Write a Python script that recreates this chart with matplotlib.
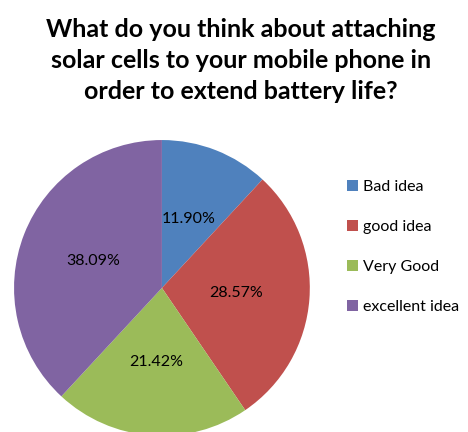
import matplotlib
matplotlib.use("Agg")
import matplotlib.pyplot as plt

categories = ["Bad idea", "good idea", "Very Good", "excellent idea"]
values = [11.90, 28.57, 21.42, 38.09]
value_labels = ["11.90%", "28.57%", "21.42%", "38.09%"]
colors = ["#4F81BD", "#C0504D", "#9BBB59", "#8064A2"]

plt.rcParams['font.family'] = ['Lato', 'DejaVu Sans']

fig = plt.figure(figsize=(4.68, 4.32), dpi=100)
fig.text(0.515, 0.86,
         "What do you think about attaching\nsolar cells to your mobile phone in\norder to extend battery life?",
         ha="center", va="center", fontsize=18, fontweight="bold", linespacing=1.42)

ax = fig.add_axes([0.030, -0.009, 0.632, 0.685])
wedges, texts = ax.pie(values, labels=value_labels, labeldistance=0.5,
                       colors=colors, startangle=90, counterclock=False,
                       wedgeprops=dict(linewidth=0), textprops=dict(fontsize=11.5))
for t in texts:
    t.set_ha("center")
ax.set_xlim(-1, 1)
ax.set_ylim(-1, 1)
ax.set_aspect("equal")

fig.legend(wedges, categories, loc="center left", bbox_to_anchor=(0.71, 0.428),
           frameon=False, fontsize=11.5, handlelength=0.7, handleheight=0.7,
           labelspacing=1.62, handletextpad=0.3)

fig.savefig("out.png", dpi=100)
